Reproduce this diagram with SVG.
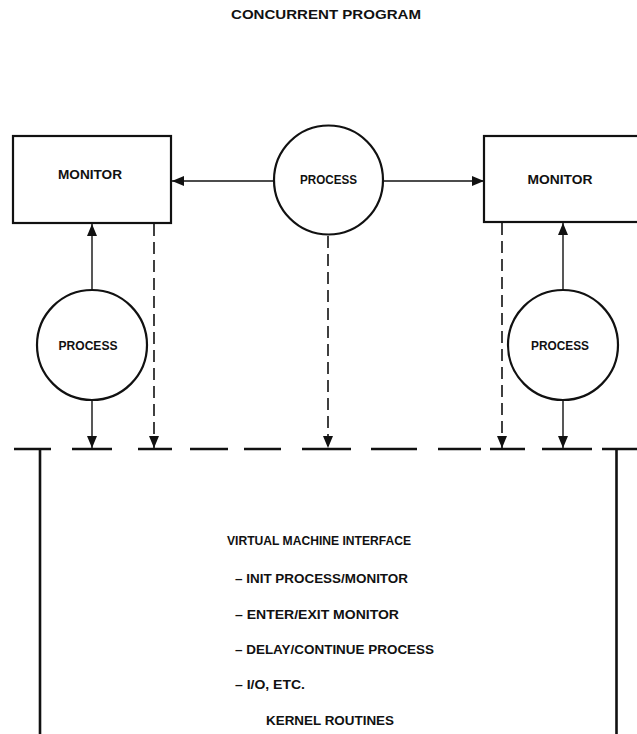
<svg xmlns="http://www.w3.org/2000/svg" width="637" height="734" viewBox="0 0 637 734">
  <style>
    .lbl { font-family: "Liberation Sans", Arial, sans-serif; font-weight: bold; font-size: 12px; fill: #111; }
    .shape { fill: #fff; stroke: #111; stroke-width: 2.2; }
    .solid { stroke: #111; stroke-width: 1.4; fill: none; }
    .dash { stroke: #111; stroke-width: 1.6; fill: none; stroke-dasharray: 12 6; }
    .base { stroke: #111; stroke-width: 2.6; fill: none; }
  </style>
  <defs>
    <marker id="arrow" viewBox="0 0 12 10" refX="12" refY="5" markerWidth="12" markerHeight="10" markerUnits="userSpaceOnUse" orient="auto">
      <path d="M0,0 L12,5 L0,10 Z" fill="#111"/>
    </marker>
  </defs>
  <rect width="637" height="734" fill="#fff"/>

  <text class="lbl" x="326" y="19" text-anchor="middle" textLength="190" lengthAdjust="spacingAndGlyphs">CONCURRENT PROGRAM</text>

  <!-- connectors -->
  <g id="connectors">
    <line class="solid" x1="274" y1="181" x2="172" y2="181" marker-end="url(#arrow)"/>
    <line class="solid" x1="383" y1="181" x2="484" y2="181" marker-end="url(#arrow)"/>
    <line class="solid" x1="92" y1="290" x2="92" y2="224" marker-end="url(#arrow)"/>
    <line class="solid" x1="563" y1="290" x2="563" y2="223" marker-end="url(#arrow)"/>
    <line class="solid" x1="92" y1="400" x2="92" y2="448" marker-end="url(#arrow)"/>
    <line class="solid" x1="563" y1="400" x2="563" y2="448" marker-end="url(#arrow)"/>
    <line class="dash" x1="154" y1="224" x2="154" y2="448" marker-end="url(#arrow)"/>
    <line class="dash" x1="328" y1="236" x2="328" y2="448" marker-end="url(#arrow)"/>
    <line class="dash" x1="502" y1="223" x2="502" y2="448" marker-end="url(#arrow)"/>
  </g>

  <g id="monitor-left">
    <rect class="shape" x="13" y="136" width="158" height="87"/>
    <text class="lbl" x="90" y="179" text-anchor="middle" textLength="64" lengthAdjust="spacingAndGlyphs">MONITOR</text>
  </g>

  <g id="monitor-right">
    <rect class="shape" x="484" y="136" width="170" height="86"/>
    <text class="lbl" x="560" y="184" text-anchor="middle" textLength="65" lengthAdjust="spacingAndGlyphs">MONITOR</text>
  </g>

  <g id="process-center">
    <circle class="shape" cx="328.5" cy="180" r="54.5"/>
    <text class="lbl" x="328.5" y="184" text-anchor="middle" textLength="57" lengthAdjust="spacingAndGlyphs">PROCESS</text>
  </g>

  <g id="process-left">
    <circle class="shape" cx="92" cy="345" r="55"/>
    <text class="lbl" x="88" y="350" text-anchor="middle" textLength="59" lengthAdjust="spacingAndGlyphs">PROCESS</text>
  </g>

  <g id="process-right">
    <circle class="shape" cx="563" cy="345" r="55"/>
    <text class="lbl" x="560" y="350" text-anchor="middle" textLength="58" lengthAdjust="spacingAndGlyphs">PROCESS</text>
  </g>

  <g id="kernel">
    <path class="base" d="M14,449 H51 M72,449 H112 M138,449 H172 M190,449 H228 M244,449 H281 M302,449 H351 M371,449 H417 M438,449 H481 M490,449 H525 M542,449 H592 M602,449 H640"/>
    <line class="base" x1="40" y1="449" x2="40" y2="734"/>
    <line class="base" x1="616.5" y1="449" x2="616.5" y2="734"/>
    <text class="lbl" x="227" y="545" textLength="184" lengthAdjust="spacingAndGlyphs">VIRTUAL MACHINE INTERFACE</text>
    <text class="lbl" x="235" y="583" textLength="173" lengthAdjust="spacingAndGlyphs">– INIT PROCESS/MONITOR</text>
    <text class="lbl" x="235" y="619" textLength="164" lengthAdjust="spacingAndGlyphs">– ENTER/EXIT MONITOR</text>
    <text class="lbl" x="235" y="654" textLength="199" lengthAdjust="spacingAndGlyphs">– DELAY/CONTINUE PROCESS</text>
    <text class="lbl" x="235" y="689" textLength="70" lengthAdjust="spacingAndGlyphs">– I/O, ETC.</text>
    <text class="lbl" x="266" y="725" textLength="128" lengthAdjust="spacingAndGlyphs">KERNEL ROUTINES</text>
  </g>
</svg>
